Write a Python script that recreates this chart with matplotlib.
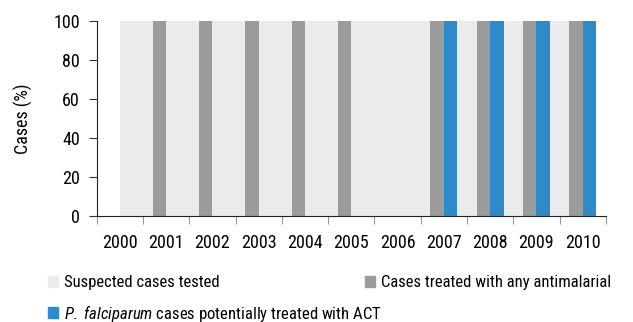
import numpy as np
import matplotlib
matplotlib.use('Agg')
import matplotlib.pyplot as plt
from matplotlib.patches import Patch

plt.rcParams['font.family'] = ['Roboto Condensed', 'DejaVu Sans']
plt.rcParams['mathtext.fontset'] = 'custom'
plt.rcParams['mathtext.it'] = 'Roboto Condensed:italic'
plt.rcParams['mathtext.rm'] = 'Roboto Condensed'

# Data
years = ['2000', '2001', '2002', '2003', '2004', '2005',
         '2006', '2007', '2008', '2009', '2010']
tested = [100, 100, 100, 100, 100, 100, 100, 100, 100, 100, 100]
treated = [0, 100, 100, 100, 100, 100, 0, 100, 100, 100, 100]
act = [0, 0, 0, 0, 0, 0, 0, 100, 100, 100, 100]

c_tested = '#EBEBEB'
c_treated = '#9B9B9B'
c_act = '#2E8BC9'

W, H = 633, 322
fig = plt.figure(figsize=(W / 100, H / 100), dpi=100)
ax = fig.add_axes([0.1528, 0.3292, 0.8042, 0.6065])

x = np.arange(len(years))
bw = 0.29

# light grey background bars run from each centre to the next one
right_end = x[-1] + bw
lw = np.minimum(x + 1, right_end) - x
ax.bar(x, tested, width=lw, align='edge', color=c_tested, zorder=1)
ax.bar(x - bw / 2, treated, width=bw, color=c_treated, zorder=2)
ax.bar(x + bw / 2, act, width=bw, color=c_act, zorder=2)

ax.set_xlim(-0.5, len(years) - 0.5)
ax.set_ylim(0, 100)
ax.set_yticks([0, 20, 40, 60, 80, 100])

ax.set_xticks(np.arange(-0.5, len(years), 1.0))
ax.set_xticklabels([])
ax.set_xticks(x, minor=True)
ax.set_xticklabels(years, minor=True)
ax.tick_params(axis='x', which='major', length=6, color='#999999', width=0.8)
ax.tick_params(axis='x', which='minor', length=0, pad=13, labelsize=13)
ax.tick_params(axis='y', length=6, width=0.8, color='#333333', pad=6, labelsize=13)

for s in ['top', 'right']:
    ax.spines[s].set_visible(False)
ax.spines['left'].set_color('#222222')
ax.spines['bottom'].set_color('#222222')

ax.set_ylabel('Cases (%)', fontsize=13)
ax.yaxis.set_label_coords(-0.125, 0.5)

# legend entries placed one by one (marker left edge, row centre in px)
entries = [
    (c_tested, 'Suspected cases tested', 48, 283),
    (c_treated, 'Cases treated with any antimalarial', 365, 283),
    (c_act, r'$\it{P.\ falciparum}$ cases potentially treated with ACT', 48, 313),
]
for col, lab, px, py in entries:
    leg = fig.legend([Patch(color=col)], [lab], loc='center left',
                     bbox_to_anchor=(px / W, 1 - py / H), frameon=False,
                     fontsize=12, handlelength=0.6, handleheight=0.6,
                     handletextpad=0.35, borderpad=0, borderaxespad=0)

fig.savefig('out.png', dpi=100)
